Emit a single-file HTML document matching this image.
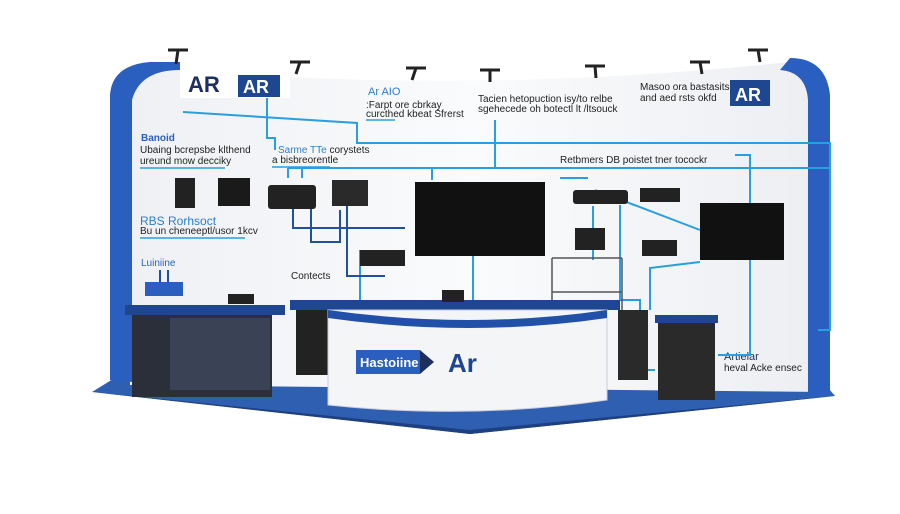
<!DOCTYPE html>
<html><head><meta charset="utf-8"><style>
html,body{margin:0;padding:0;background:#fff;width:900px;height:514px;overflow:hidden}
svg{display:block}
text{font-family:"Liberation Sans",sans-serif}
</style></head><body>
<svg width="900" height="514" viewBox="0 0 900 514" xmlns="http://www.w3.org/2000/svg">
<defs>
<linearGradient id="wall" x1="0" x2="1"><stop offset="0" stop-color="#eef0f4"/><stop offset=".5" stop-color="#fafbfc"/><stop offset="1" stop-color="#eceef2"/></linearGradient>
</defs>
<!-- floor -->
<polygon points="92,392 160,350 800,355 835,396 470,434" fill="#2e5fb0"/>
<polygon points="92,392 470,434 835,396 470,430" fill="#1e3f80"/>
<!-- back wall -->
<path d="M120,70 Q150,62 180,70 Q480,95 790,62 Q820,62 825,90 L825,392 L130,385 Z" fill="url(#wall)"/>
<path d="M110,380 L110,95 Q112,65 150,62 L180,62 L180,70 Q140,70 132,100 L132,382 Z" fill="#2a5fc0"/>
<path d="M790,58 Q826,58 830,95 L830,395 L808,396 L808,100 Q806,72 780,70 Z" fill="#2a5fc0"/>
<!-- ceiling fixtures -->
<g stroke="#222" stroke-width="3" fill="none">
<path d="M168,50 L188,50 M178,50 L176,64"/><path d="M290,62 L310,62 M300,62 L296,74"/><path d="M406,68 L426,68 M416,68 L412,80"/><path d="M480,70 L500,70 M490,70 L490,82"/><path d="M585,66 L605,66 M595,66 L596,78"/><path d="M690,62 L710,62 M700,62 L702,74"/><path d="M748,50 L768,50 M758,50 L760,62"/>
</g>
<!-- AR logos -->
<rect x="180" y="68" width="110" height="30" fill="#fff"/>
<text x="188" y="92" font-size="22" font-weight="bold" fill="#1c2f5e">AR</text>
<rect x="238" y="75" width="42" height="22" fill="#1f4690"/>
<text x="243" y="93" font-size="18" font-weight="bold" fill="#fff">AR</text>
<rect x="730" y="80" width="40" height="26" fill="#1f4690"/>
<text x="735" y="101" font-size="18" font-weight="bold" fill="#fff">AR</text>
<!-- texts -->
<g font-size="10" fill="#222">
<text x="368" y="95" fill="#2a7fd0" font-size="11">Ar AIO</text>
<text x="366" y="108">:Farpt ore cbrkay</text>
<text x="366" y="117">curcthed kbeat Sfrerst</text>
<text x="478" y="102">Tacien hetopuction isy/to relbe</text>
<text x="478" y="112">sgehecede oh botectl lt /ltsouck</text>
<text x="640" y="90">Masoo ora bastasits</text>
<text x="640" y="101">and aed rsts okfd</text>
<text x="141" y="141" fill="#2a5fc0" font-weight="bold">Banoid</text>
<text x="140" y="153">Ubaing bcrepsbe klthend</text>
<text x="140" y="164">ureund mow decciky</text>
<text x="278" y="153" fill="#2a7fd0">Sarme TTe <tspan fill="#222">corystets</tspan></text>
<text x="272" y="163">a bisbreorentle</text>
<text x="140" y="225" fill="#2a7fd0" font-size="12">RBS Rorhsoct</text>
<text x="140" y="234">Bu un cheneeptl/usor 1kcv</text>
<text x="141" y="266" fill="#2a5fc0">Luiniine</text>
<text x="291" y="279">Contects</text>
<text x="560" y="163">Retbmers DB poistet tner tocockr</text>
<text x="724" y="360" font-size="11" fill="#1c2f5e">Artielar</text>
<text x="724" y="371">heval Acke ensec</text>
</g>
<!-- underlines -->
<g stroke="#2a9fe0" stroke-width="1.5" fill="none">
<path d="M140,168 L225,168 M140,238 L245,238 M366,120 L395,120 M272,167 L330,167"/>
</g>
<!-- connectors -->
<g stroke="#2a9fe0" stroke-width="2" fill="none">
<path d="M267,98 L267,138 L275,138 L275,150"/>
<path d="M183,112 L357,123 L357,143 L830,143 L830,330 L818,330"/>
<path d="M288,168 L830,168"/>
<path d="M288,168 L288,178 M302,168 L302,178 M432,168 L432,180 M495,120 L495,168"/>
<path d="M473,256 L473,300 M360,250 L360,300"/>
<path d="M593,206 L593,260 M620,205 L620,300 L640,300 L640,370 L655,370"/>
<path d="M588,178 L560,178 M735,155 L750,155 L750,355 L718,355"/>
<path d="M700,262 L650,268 L650,310"/>
<path d="M595,190 L700,230"/>
</g>
<g stroke="#2050a0" stroke-width="2" fill="none">
<path d="M293,208 L293,228 L405,228"/><path d="M311,208 L311,242 L340,242 L340,210"/><path d="M347,205 L347,276 L385,276"/><path d="M160,270 L160,290 M168,270 L168,290"/>
</g>
<!-- devices -->
<rect x="175" y="178" width="20" height="30" fill="#222"/>
<rect x="218" y="178" width="32" height="28" fill="#1a1a1a"/>
<rect x="268" y="185" width="48" height="24" rx="3" fill="#222"/>
<rect x="332" y="180" width="36" height="26" fill="#2a2a2a"/>
<rect x="415" y="182" width="130" height="74" fill="#111"/>
<rect x="360" y="250" width="45" height="16" fill="#222"/>
<rect x="573" y="190" width="55" height="14" rx="3" fill="#222"/>
<rect x="640" y="188" width="40" height="14" fill="#222"/>
<rect x="575" y="228" width="30" height="22" fill="#222"/>
<rect x="642" y="240" width="35" height="16" fill="#222"/>
<rect x="700" y="203" width="84" height="57" fill="#111"/>
<rect x="145" y="282" width="38" height="14" fill="#2a5fc0"/>
<!-- shelf -->
<g stroke="#555" stroke-width="1.5" fill="none"><path d="M552,258 L622,258 M552,258 L552,310 M622,258 L622,310 M552,292 L622,292"/></g>
<!-- left counter -->
<rect x="125" y="305" width="160" height="10" fill="#1f4690"/>
<rect x="132" y="315" width="140" height="82" fill="#2b2f3a"/>
<rect x="170" y="318" width="100" height="72" fill="#3a4256"/>
<rect x="228" y="294" width="26" height="10" fill="#222"/>
<!-- back cabinets -->
<rect x="296" y="305" width="32" height="70" fill="#222"/>
<rect x="618" y="310" width="30" height="70" fill="#2a2a2a"/>
<!-- center desk -->
<rect x="290" y="300" width="330" height="10" fill="#1f4690"/>
<path d="M328,310 L607,310 L607,400 Q470,420 328,405 Z" fill="#f4f5f7" stroke="#ccd" />
<path d="M328,310 Q470,330 607,310 L607,318 Q470,338 328,318 Z" fill="#2050a8"/>
<rect x="442" y="290" width="22" height="12" fill="#222"/>
<rect x="356" y="350" width="64" height="24" fill="#2a5fc0"/>
<polygon points="420,350 434,362 420,374" fill="#1c2f5e"/>
<text x="360" y="367" font-size="13" font-weight="bold" fill="#fff">Hastoiine</text>
<text x="448" y="372" font-size="26" font-weight="bold" fill="#1f4690">Ar</text>
<!-- right cabinet -->
<rect x="655" y="315" width="63" height="8" fill="#1f4690"/>
<rect x="658" y="323" width="57" height="77" fill="#2a2a2a"/>
</svg>
</body></html>
